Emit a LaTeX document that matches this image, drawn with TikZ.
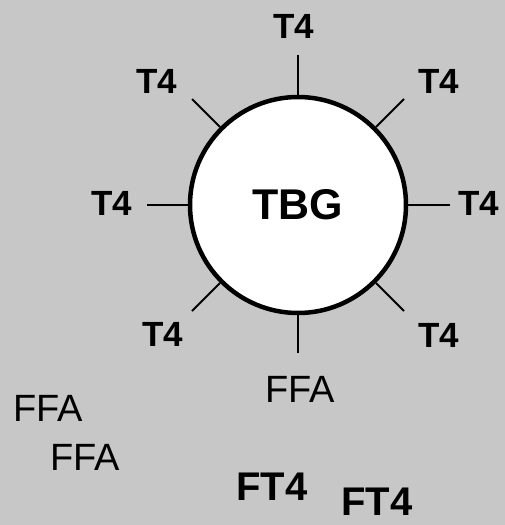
\documentclass[tikz,border=0pt]{standalone}
\usepackage{fontspec}
\setmainfont{Liberation Sans}

\begin{document}
\begin{tikzpicture}[x=1pt,y=-1pt,
  bold label/.style={font=\fontsize{35}{35}\selectfont\bfseries},
  thin label/.style={font=\fontsize{38}{38}\selectfont},
  free label/.style={font=\fontsize{40}{40}\selectfont\bfseries,inner sep=1pt},
  spoke/.style={line width=2pt}]
\fill[black!22] (0,0) rectangle (505,525);
\useasboundingbox (0,0) rectangle (505,525);
\node[circle,draw,line width=4.5pt,fill=white,minimum size=216pt,inner sep=0pt,
  font=\fontsize{43}{43}\selectfont\bfseries] (tbg) at (298,205) {TBG};
\coordinate (s1) at (298,55);
\coordinate (s2) at (404,99);
\coordinate (s3) at (450,205);
\coordinate (s4) at (404,311);
\coordinate (s5) at (298,353);
\coordinate (s6) at (192,311);
\coordinate (s7) at (147,205);
\coordinate (s8) at (192,99);
\foreach \i in {1,...,8}
  \draw[spoke] (tbg) -- (s\i);
\node[bold label] (t4top) at (294,26) {T4};
\node[bold label] (t4ur) at (439,81) {T4};
\node[bold label] (t4r) at (479,203) {T4};
\node[bold label] (t4lr) at (439,335) {T4};
\node[thin label] (ffabot) at (300,389) {FFA};
\node[bold label] (t4ll) at (163,334) {T4};
\node[bold label] (t4l) at (112,203) {T4};
\node[bold label] (t4ul) at (157,81) {T4};
\node[thin label] (ffa1) at (48,408) {FFA};
\node[thin label] (ffa2) at (85,457) {FFA};
\node[free label] (ft4a) at (272,487) {FT4};
\node[free label] (ft4b) at (377,502) {FT4};
\end{tikzpicture}
\end{document}
